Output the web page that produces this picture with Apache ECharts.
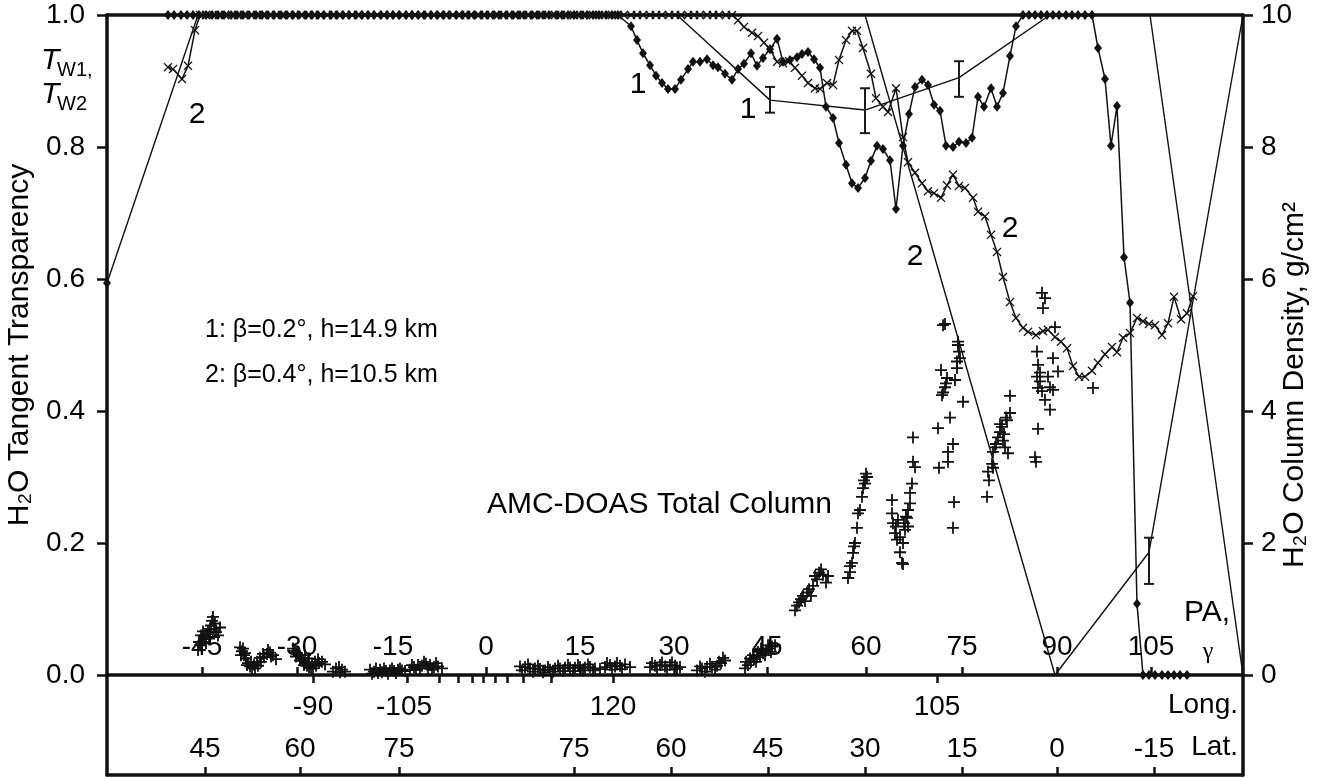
<!DOCTYPE html>
<html>
<head>
<meta charset="utf-8">
<script src="https://cdn.jsdelivr.net/npm/echarts@6/dist/echarts.min.js"></script>
<style>
  html, body { margin: 0; padding: 0; background: #fff; }
  #chart { width: 1342px; height: 778px; }
</style>
</head>
<body>
<div id="chart"></div>
<script>
// x = position along the flight track (arbitrary units, no numeric labels)
// PA / Long. / Lat. tick rows
var paTickX = [202, 297, 393, 486, 580, 674, 767, 866, 962, 1057, 1151];
var paLabels = ['-45', '-30', '-15', '0', '15', '30', '45', '60', '75', '90', '105'];
var longTickX = [313, 407, 439, 458, 472, 483, 495, 507, 523, 551, 613, 937];
var longLabelX = [313, 404, 613, 937];
var longLabels = ['-90', '-105', '120', '105'];
var latTickX = [205, 300, 399, 574, 671, 768, 865, 962, 1057, 1154];
var latLabels = ['45', '60', '75', '75', '60', '45', '30', '15', '0', '-15'];

// curve 1 (T_W1), saturated at 1.0 on the first stretch
var tw1TopA = [168, 174, 181, 187, 193, 199, 206, 212, 218, 224, 231, 237, 243, 249, 256, 262, 268, 274,
  281, 287, 293, 299, 306, 312, 318, 324, 331, 337, 343, 349, 356, 362, 368, 374, 381, 387, 393, 399,
  406, 412, 418, 424, 431, 437, 443, 449, 456, 462, 468, 474, 481, 487, 493, 499, 506, 512, 518, 524,
  531, 537, 543, 549, 556, 562, 568, 574, 581, 587, 593, 599, 606, 612, 618];
var tw1Fall = [[631, 0.983], [637, 0.962], [643, 0.942], [650, 0.924], [656, 0.908], [662, 0.897],
  [668, 0.888], [675, 0.888], [681, 0.902], [688, 0.918], [693, 0.929], [700, 0.929], [707, 0.933],
  [713, 0.924], [718, 0.921], [725, 0.911], [732, 0.902], [738, 0.918], [744, 0.926], [751, 0.942],
  [757, 0.923], [763, 0.935], [770, 0.948], [777, 0.964], [783, 0.929], [790, 0.932], [797, 0.936],
  [802, 0.941], [808, 0.944], [814, 0.933], [820, 0.920], [826, 0.861], [833, 0.844], [839, 0.806],
  [846, 0.773], [852, 0.745], [858, 0.738], [865, 0.753], [871, 0.779], [877, 0.802], [883, 0.797],
  [890, 0.780], [896, 0.706], [903, 0.802], [909, 0.850], [915, 0.891], [922, 0.902], [928, 0.894],
  [934, 0.864], [940, 0.855], [946, 0.802], [953, 0.800], [959, 0.808], [966, 0.806], [972, 0.814],
  [978, 0.876], [984, 0.861], [991, 0.889], [997, 0.861], [1003, 0.882], [1010, 0.938], [1016, 0.983]];
var tw1TopB = [1023, 1029, 1035, 1041, 1047, 1053, 1059, 1066, 1072, 1078, 1085, 1092];
var tw1Drop = [[1098, 0.950], [1105, 0.903], [1111, 0.802], [1117, 0.862], [1124, 0.633],
  [1130, 0.564], [1137, 0.108], [1143, 0.0]];
var tw1Floor = [1149, 1155, 1162, 1168, 1174, 1180, 1187];

// curve 2 (T_W2)
var tw2Start = [[168, 0.921], [173, 0.918], [182, 0.903], [188, 0.923], [195, 0.977]];
var tw2Top = [200, 206, 213, 219, 225, 232, 238, 244, 251, 257, 263, 270, 276, 282, 289, 295, 301, 308,
  314, 320, 327, 333, 339, 346, 352, 358, 365, 371, 377, 384, 390, 396, 403, 409, 415, 422, 428, 434,
  441, 447, 453, 460, 466, 472, 479, 485, 491, 498, 504, 510, 517, 523, 529, 536, 542, 548, 555, 561,
  567, 574, 580, 586, 593, 599, 605, 612, 618, 624, 631, 637, 643, 650, 656, 662, 669, 675, 681, 688,
  694, 700, 707, 713, 719, 726, 732];
var tw2Fall = [[738, 0.992], [744, 0.982], [752, 0.973], [758, 0.968], [764, 0.958], [770, 0.948],
  [777, 0.929], [783, 0.927], [789, 0.930], [795, 0.920], [802, 0.908], [808, 0.897], [815, 0.889],
  [820, 0.888], [827, 0.897], [833, 0.894], [839, 0.932], [846, 0.962], [852, 0.976], [857, 0.976],
  [863, 0.950], [871, 0.911], [876, 0.874], [883, 0.861], [888, 0.853], [896, 0.889], [903, 0.815],
  [908, 0.777], [915, 0.761], [922, 0.745], [928, 0.733], [934, 0.730], [941, 0.723], [947, 0.742],
  [953, 0.758], [959, 0.741], [965, 0.738], [973, 0.723], [978, 0.702], [985, 0.695], [991, 0.667],
  [997, 0.641], [1003, 0.603], [1010, 0.565], [1016, 0.541], [1023, 0.526], [1028, 0.520],
  [1036, 0.515], [1043, 0.521], [1048, 0.523], [1055, 0.512], [1061, 0.505], [1067, 0.495],
  [1073, 0.468], [1079, 0.452], [1085, 0.452], [1092, 0.461], [1098, 0.473], [1105, 0.486],
  [1112, 0.497], [1117, 0.489], [1123, 0.511], [1130, 0.518], [1137, 0.541], [1143, 0.536],
  [1149, 0.532], [1155, 0.530], [1162, 0.515], [1168, 0.533], [1174, 0.573], [1181, 0.539],
  [1187, 0.548], [1193, 0.574]];

// straight model lines and their error bars [x, low, high]
var lineA = [[107, 0.594], [198, 1.0], [677, 1.0], [770, 0.871], [865, 0.856], [959, 0.905],
  [1050, 1.0], [1150, 1.0], [1243, 0.0]];
var lineB = [[865, 1.0], [1055, 0.0], [1149, 0.186], [1243, 1.0]];
var errBars = [[770, 0.852, 0.891], [865, 0.821, 0.889], [959, 0.876, 0.930], [1149, 0.138, 0.208]];

// AMC-DOAS total column, g/cm2
var amcLow = [[198, 0.38], [199, 0.5], [200, 0.45], [201, 0.6], [202, 0.5], [203, 0.66], [204, 0.55],
  [205, 0.6], [206, 0.48], [207, 0.62], [208, 0.66], [209, 0.55], [210, 0.7], [211, 0.75], [212, 0.82],
  [213, 0.88], [214, 0.7], [215, 0.78], [216, 0.65], [218, 0.6], [220, 0.72],
  [240, 0.42], [241, 0.3], [242, 0.36], [243, 0.4], [244, 0.3], [245, 0.33], [246, 0.25], [247, 0.15],
  [248, 0.18], [250, 0.13], [251, 0.2], [252, 0.1], [254, 0.16], [255, 0.1], [257, 0.2], [258, 0.14],
  [260, 0.26], [261, 0.2], [263, 0.32], [264, 0.27], [267, 0.32], [268, 0.38], [270, 0.34], [271, 0.28],
  [273, 0.3], [276, 0.24],
  [293, 0.4], [295, 0.36], [296, 0.28], [297, 0.33], [299, 0.3], [300, 0.22], [301, 0.26], [303, 0.22],
  [304, 0.15], [305, 0.18], [305, 0.3], [307, 0.14], [308, 0.2], [309, 0.12], [309, 0.25], [311, 0.1],
  [312, 0.17], [313, 0.1], [315, 0.2], [316, 0.14], [318, 0.24], [319, 0.18], [322, 0.2], [325, 0.16],
  [333, 0.05], [336, 0.1], [339, 0.12], [340, 0.04], [342, 0.08], [345, 0.05],
  [370, 0.08], [372, 0.02], [374, 0.05], [376, 0.1], [378, 0.03], [380, 0.08], [382, 0.04], [384, 0.1],
  [386, 0.06], [388, 0.02], [390, 0.07], [392, 0.1], [394, 0.06], [396, 0.03], [398, 0.08], [400, 0.1],
  [402, 0.07], [405, 0.06],
  [410, 0.08], [412, 0.15], [414, 0.12], [416, 0.08], [418, 0.15], [420, 0.1], [422, 0.14], [424, 0.2],
  [426, 0.17], [428, 0.1], [430, 0.15], [432, 0.08], [434, 0.12], [436, 0.18], [438, 0.13], [442, 0.1],
  [520, 0.13], [522, 0.07], [525, 0.12], [528, 0.16], [530, 0.1], [533, 0.05], [535, 0.1], [538, 0.14],
  [540, 0.09], [543, 0.04], [545, 0.07], [548, 0.12], [550, 0.08], [553, 0.05], [555, 0.1], [558, 0.14],
  [560, 0.1], [563, 0.06], [565, 0.11], [568, 0.15], [570, 0.11], [573, 0.06], [575, 0.11], [578, 0.15],
  [580, 0.12], [583, 0.07], [585, 0.11], [588, 0.16], [590, 0.12], [593, 0.07], [595, 0.1], [600, 0.09],
  [605, 0.12], [607, 0.18], [610, 0.15], [612, 0.08], [615, 0.13], [617, 0.18], [620, 0.14], [622, 0.09],
  [625, 0.16], [630, 0.12],
  [650, 0.12], [652, 0.18], [655, 0.14], [657, 0.08], [660, 0.15], [662, 0.19], [665, 0.13], [667, 0.08],
  [670, 0.15], [672, 0.19], [675, 0.14], [677, 0.09], [680, 0.12],
  [697, 0.07], [700, 0.13], [702, 0.1], [705, 0.05], [707, 0.12], [710, 0.17], [712, 0.12], [715, 0.08],
  [717, 0.14], [719, 0.2], [721, 0.18], [723, 0.26], [725, 0.22],
  [745, 0.1], [746, 0.2], [748, 0.15], [750, 0.25], [751, 0.2], [753, 0.3], [754, 0.24], [756, 0.2],
  [757, 0.27], [758, 0.35], [760, 0.3], [761, 0.4], [763, 0.33], [765, 0.3], [766, 0.37], [768, 0.45],
  [769, 0.4], [771, 0.35], [772, 0.43], [775, 0.45]];
var amcHigh = [[795, 0.98], [797, 1.05], [799, 1.1], [801, 1.15], [803, 1.2], [805, 1.12], [807, 1.25],
  [809, 1.3], [811, 1.2], [813, 1.35], [815, 1.5], [817, 1.45], [819, 1.55], [821, 1.6], [823, 1.52],
  [826, 1.4], [828, 1.5],
  [848, 1.47], [850, 1.56], [850, 1.65], [852, 1.7], [853, 1.85], [854, 1.95], [855, 2.0], [857, 2.23],
  [858, 2.45], [860, 2.5], [862, 2.7], [863, 2.83], [864, 2.95], [865, 2.9], [866, 3.05], [867, 3.0],
  [913, 3.6], [913, 3.23], [915, 3.15], [912, 2.9], [910, 2.76], [910, 2.6], [908, 2.5], [907, 2.38],
  [892, 2.65], [892, 2.45], [893, 2.3], [895, 2.15], [897, 2.05], [900, 2.09], [903, 2.0], [900, 1.86],
  [902, 1.7], [903, 1.68], [905, 2.2], [908, 2.25], [906, 2.4], [896, 2.25], [898, 2.35], [904, 2.3],
  [943, 5.3], [945, 5.32], [958, 5.05], [959, 4.9], [960, 4.8], [957, 4.65], [941, 4.62], [947, 4.5],
  [955, 4.47], [945, 4.36], [942, 4.24], [963, 4.14], [950, 3.9], [938, 3.74], [953, 3.5], [948, 3.38],
  [948, 3.23], [939, 3.14], [954, 2.62], [953, 2.23], [958, 5.0], [957, 4.75], [946, 4.42], [943, 4.28],
  [1010, 4.23], [1010, 3.97], [1007, 3.86], [1002, 3.76], [1000, 3.68], [998, 3.6], [1003, 3.55],
  [1005, 3.45], [1008, 3.36], [995, 3.45], [993, 3.38], [992, 3.2], [993, 3.14], [988, 3.08], [989, 2.95],
  [987, 2.7], [1000, 3.8], [996, 3.5], [1004, 3.65], [1006, 3.9],
  [1042, 5.79], [1045, 5.71], [1043, 5.56], [1037, 4.9], [1038, 4.7], [1040, 4.58], [1037, 4.52],
  [1048, 4.52], [1050, 4.36], [1053, 4.32], [1038, 4.35], [1045, 4.17], [1050, 4.02], [1038, 3.73],
  [1035, 3.3], [1036, 3.23], [1053, 4.8], [1058, 4.6], [1055, 5.27], [1093, 4.35], [1040, 4.45], [1042, 4.3]];

var FONT = '"Liberation Sans", Arial, Helvetica, sans-serif';
var INK = '#111';
var CROSS = 'path://M0,2L2,0L10,8L18,0L20,2L12,10L20,18L18,20L10,12L2,20L0,18L8,10Z';
var PLUS = 'path://M8.5,0H11.5V8.5H20V11.5H11.5V20H8.5V11.5H0V8.5H8.5Z';

var tw1 = [].concat(
  tw1TopA.map(function (x) { return [x, 1.0]; }),
  tw1Fall,
  tw1TopB.map(function (x) { return [x, 1.0]; }),
  tw1Drop,
  tw1Floor.map(function (x) { return [x, 0.0]; })
);
var tw2 = [].concat(tw2Start, tw2Top.map(function (x) { return [x, 1.0]; }), tw2Fall);

var chart = echarts.init(document.getElementById('chart'));

function xBase(grid, pos) {
  return {
    type: 'value', gridIndex: grid, position: pos, min: 107, max: 1243,
    axisLine: { show: true, onZero: false, lineStyle: { color: INK, width: 3.5 } },
    axisTick: { show: false }, axisLabel: { show: false }, splitLine: { show: false }
  };
}

// PA row: ticks and labels inside the plot, above the 0.0 line
var xPA = xBase(0, 'bottom');
xPA.axisTick = { show: true, inside: true, length: 8, customValues: paTickX, lineStyle: { color: INK, width: 2.5 } };
xPA.axisLabel = { show: true, inside: true, margin: 14, customValues: paTickX, color: '#000',
  fontSize: 28, fontFamily: FONT,
  formatter: function (v) { return paLabels[paTickX.indexOf(v)]; } };

var xTop = xBase(0, 'top');

// Longitude row: ticks and labels below the 0.0 line
var xLong = xBase(0, 'bottom');
xLong.axisLine = { show: false, onZero: false };
xLong.axisTick = { show: true, inside: false, length: 8, customValues: longTickX, lineStyle: { color: INK, width: 2.5 } };
xLong.axisLabel = { show: true, inside: false, margin: 18, customValues: longLabelX, color: '#000',
  fontSize: 28, fontFamily: FONT,
  formatter: function (v) { return longLabels[longLabelX.indexOf(v)]; } };

// Latitude row: ticks and labels above the bottom frame
var xLat = xBase(1, 'bottom');
xLat.axisTick = { show: true, inside: true, length: 8, customValues: latTickX, lineStyle: { color: INK, width: 2.5 } };
xLat.axisLabel = { show: true, inside: true, margin: 12, customValues: latTickX, color: '#000',
  fontSize: 28, fontFamily: FONT,
  formatter: function (v) { return latLabels[latTickX.indexOf(v)]; } };

function yFrame(grid, pos) {
  return {
    type: 'value', gridIndex: grid, position: pos, min: 0, max: 1,
    axisLine: { show: true, onZero: false, lineStyle: { color: INK, width: 3.5 } },
    axisTick: { show: false }, axisLabel: { show: false }, splitLine: { show: false }
  };
}

function txt(x, y, s, font, align) {
  return { type: 'text', x: x, y: y, z: 10,
    style: { text: s, font: font, fill: '#000', align: align || 'center', verticalAlign: 'middle' } };
}

var option = {
  animation: false,
  backgroundColor: '#fff',
  grid: [
    { left: 107, right: 99, top: 15, bottom: 103, containLabel: false, outerBoundsMode: 'none' },
    { left: 107, right: 99, top: 675, bottom: 3, containLabel: false, outerBoundsMode: 'none' }
  ],
  xAxis: [xPA, xTop, xLong, xLat],
  yAxis: [
    {
      type: 'value', gridIndex: 0, position: 'left', min: 0, max: 1, interval: 0.2,
      name: 'H\u2082O Tangent Transparency', nameLocation: 'middle', nameRotate: 90, nameGap: 72,
      nameTextStyle: { fontSize: 30, fontFamily: FONT, color: '#000' },
      axisLine: { show: true, onZero: false, lineStyle: { color: INK, width: 3.5 } },
      axisTick: { show: true, length: 10, lineStyle: { color: INK, width: 2.5 } },
      axisLabel: { margin: 22, fontSize: 28, fontFamily: FONT, color: '#000',
        formatter: function (v) { return v.toFixed(1); } },
      splitLine: { show: false }
    },
    {
      type: 'value', gridIndex: 0, position: 'right', min: 0, max: 10, interval: 2,
      axisLine: { show: true, onZero: false, lineStyle: { color: INK, width: 3.5 } },
      axisTick: { show: true, length: 10, lineStyle: { color: INK, width: 2.5 } },
      axisLabel: { margin: 18, fontSize: 28, fontFamily: FONT, color: '#000' },
      splitLine: { show: false }
    },
    yFrame(1, 'left'),
    yFrame(1, 'right')
  ],
  graphic: [
    { type: 'text', x: 1295, y: 385, rotation: Math.PI / 2, z: 10,
      style: { text: 'H\u2082O Column Density, g/cm\u00b2', font: '30px ' + FONT, fill: '#000',
        align: 'center', verticalAlign: 'middle' } },
    { type: 'text', left: 41, top: 46, style: { text: 'T', font: 'italic 30px ' + FONT, fill: '#000' } },
    { type: 'text', left: 57, top: 60, style: { text: 'W1,', font: '20px ' + FONT, fill: '#000' } },
    { type: 'text', left: 41, top: 80, style: { text: 'T', font: 'italic 30px ' + FONT, fill: '#000' } },
    { type: 'text', left: 57, top: 94, style: { text: 'W2', font: '20px ' + FONT, fill: '#000' } },
    txt(197, 115, '2', '30px ' + FONT),
    txt(638, 85, '1', '30px ' + FONT),
    txt(748, 110, '1', '30px ' + FONT),
    txt(915, 257, '2', '30px ' + FONT),
    txt(1010, 229, '2', '30px ' + FONT),
    txt(205, 330, '1: \u03b2=0.2\u00b0, h=14.9 km', '25px ' + FONT, 'left'),
    txt(205, 375, '2: \u03b2=0.4\u00b0, h=10.5 km', '25px ' + FONT, 'left'),
    txt(832, 505, 'AMC-DOAS Total Column', '30px ' + FONT, 'right'),
    txt(1207, 613, 'PA,', '30px ' + FONT),
    txt(1208, 652, '\u03b3', '24px "Liberation Serif", "Times New Roman", serif'),
    txt(1238, 705, 'Long.', '28px ' + FONT, 'right'),
    txt(1238, 747, 'Lat.', '28px ' + FONT, 'right')
  ],
  series: [
    {
      name: 'model A', type: 'line', xAxisIndex: 0, yAxisIndex: 0, clip: false, z: 2,
      symbol: 'none',
      data: lineA.map(function (p, i) {
        return i === 0 ? { value: p, symbol: 'diamond', symbolSize: [8, 10] } : p;
      }),
      lineStyle: { color: INK, width: 1.4 }, itemStyle: { color: INK }
    },
    {
      name: 'model B', type: 'line', xAxisIndex: 0, yAxisIndex: 0, clip: false, z: 2,
      symbol: 'none', data: lineB,
      lineStyle: { color: INK, width: 1.4 }
    },
    {
      name: 'error bars', type: 'custom', xAxisIndex: 0, yAxisIndex: 0, z: 3,
      encode: { x: 0, y: [1, 2] },
      data: errBars,
      renderItem: function (params, api) {
        var lo = api.coord([api.value(0), api.value(1)]);
        var hi = api.coord([api.value(0), api.value(2)]);
        var w = 5;
        var st = { stroke: '#1a1a1a', lineWidth: 2 };
        return {
          type: 'group',
          children: [
            { type: 'line', shape: { x1: lo[0], y1: lo[1], x2: hi[0], y2: hi[1] }, style: st },
            { type: 'line', shape: { x1: lo[0] - w, y1: lo[1], x2: lo[0] + w, y2: lo[1] }, style: st },
            { type: 'line', shape: { x1: hi[0] - w, y1: hi[1], x2: hi[0] + w, y2: hi[1] }, style: st }
          ]
        };
      }
    },
    {
      name: 'AMC-DOAS', type: 'scatter', xAxisIndex: 0, yAxisIndex: 1, z: 4,
      symbol: PLUS, symbolSize: 12,
      data: amcLow.concat(amcHigh),
      itemStyle: { color: INK, opacity: 1 }
    },
    {
      name: 'T_W2', type: 'line', xAxisIndex: 0, yAxisIndex: 0, clip: false, z: 5,
      symbol: CROSS, symbolSize: 9, showSymbol: true, showAllSymbol: true,
      data: tw2,
      lineStyle: { color: INK, width: 1.5 }, itemStyle: { color: INK }
    },
    {
      name: 'T_W1', type: 'line', xAxisIndex: 0, yAxisIndex: 0, clip: false, z: 6,
      symbol: 'diamond', symbolSize: [8, 10], showSymbol: true, showAllSymbol: true,
      data: tw1,
      lineStyle: { color: INK, width: 1.5 }, itemStyle: { color: INK }
    }
  ]
};

option && chart.setOption(option);
</script>
</body>
</html>
